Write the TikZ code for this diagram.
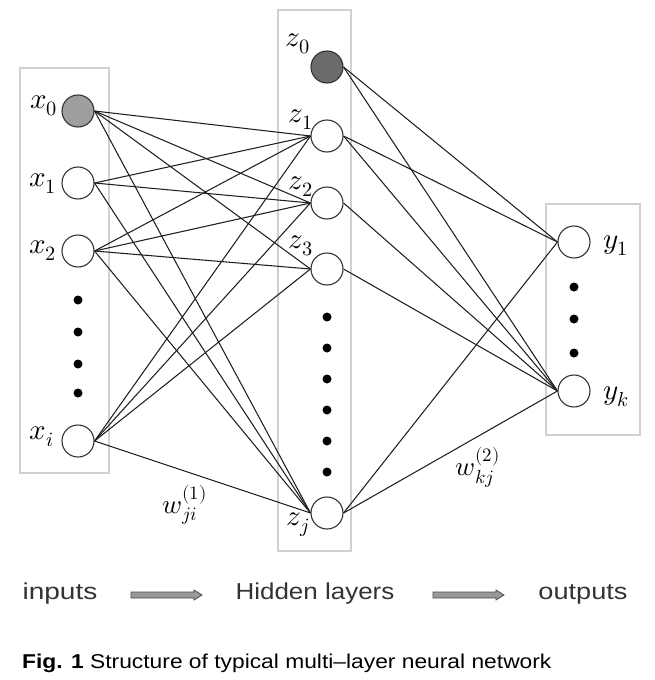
\documentclass[tikz,border=0pt]{standalone}
\usepackage{fontspec}
\usepackage{unicode-math}
\setmathfont{Latin Modern Math}
\setsansfont{Liberation Sans}
\usepackage{graphicx}
\begin{document}
\begin{tikzpicture}[x=1pt,y=-1pt,
  neuron/.style={circle,draw=black!80,line width=1.1pt,minimum size=32pt,inner sep=0pt,fill=white},
  layerbox/.style={draw=black!18,line width=1.5pt},
  conn/.style={draw=black!88,line width=1.05pt},
  dotn/.style={circle,fill=black,inner sep=0pt,minimum size=9pt},
  lbl/.style={font=\fontsize{29}{29}\selectfont,inner sep=0pt},
  wlbl/.style={font=\fontsize{27}{27}\selectfont,inner sep=0pt},
  bottxt/.style={font=\sffamily\fontsize{23}{23}\selectfont,text=black!80,inner sep=0pt},
  captxt/.style={font=\sffamily\fontsize{20}{20}\selectfont,inner sep=0pt,anchor=west},
  flowarrow/.style={draw=black!70,fill=black!40,line width=0.8pt}
]
\useasboundingbox (0,0) rectangle (654,680);
\fill[white] (0,0) rectangle (654,680);
% layer boxes
\draw[layerbox] (20,68) rectangle (109,473);
\draw[layerbox] (278,10) rectangle (351,551);
\draw[layerbox] (546,204) rectangle (640,435);
% input layer
\node[neuron,fill=black!38] (x0) at (78,111) {};
\node[neuron] (x1) at (78,183) {};
\node[neuron] (x2) at (78,251) {};
\node[neuron] (xi) at (78,441) {};
\foreach \yy/\nm in {300/a,332/b,364/c,393/d} \node[dotn] (xd\nm) at (78,\yy) {};
% hidden layer
\node[neuron,fill=black!58] (z0) at (327,67) {};
\node[neuron] (z1) at (327,136) {};
\node[neuron] (z2) at (327,203) {};
\node[neuron] (z3) at (327,269) {};
\node[neuron] (zj) at (327,513) {};
\foreach \yy/\nm in {317/a,348/b,379/c,410/d,441/e,472/f} \node[dotn] (zd\nm) at (327,\yy) {};
% output layer
\node[neuron] (y1) at (574,242) {};
\node[neuron] (yk) at (574,391) {};
\foreach \yy/\nm in {287/a,319/b,353/c} \node[dotn] (yd\nm) at (574,\yy) {};
% labels
\node[lbl] (lx0) at (44,106) {$x_0$};
\node[lbl] (lx1) at (43,184) {$x_1$};
\node[lbl] (lx2) at (43,251) {$x_2$};
\node[lbl] (lxi) at (42,437) {$x_i$};
\node[lbl] (lz0) at (298,44) {$z_0$};
\node[lbl] (lz1) at (301,120) {$z_1$};
\node[lbl] (lz2) at (301,187) {$z_2$};
\node[lbl] (lz3) at (301,246) {$z_3$};
\node[lbl] (lzj) at (298,525) {$z_j$};
\node[lbl] (ly1) at (616,246) {$y_1$};
\node[lbl] (lyk) at (616,397) {$y_k$};
\node[wlbl] (w1) at (185,505) {$w_{ji}^{(1)}$};
\node[wlbl] (w2) at (478,467) {$w_{kj}^{(2)}$};
% input -> hidden connections
\foreach \s/\t in {x0/z1,x0/z2,x0/z3,x0/zj,
                   x1/z1,x1/z2,x1/zj,
                   x2/z1,x2/z2,x2/z3,x2/zj,
                   xi/z1,xi/z2,xi/z3,xi/zj}
  \draw[conn] (\s.east) -- (\t.west);
% hidden -> output connections
\foreach \s/\t in {z0/y1,z0/yk,z1/y1,z1/yk,z2/yk,z3/yk,zj/y1,zj/yk}
  \draw[conn] (\s.east) -- (\t.west);
% bottom flow
\node[bottxt] (tin) at (60,594) {\scalebox{1.22}[1]{inputs}};
\node[bottxt] (thid) at (315,594) {\scalebox{1.13}[1]{Hidden layers}};
\node[bottxt] (tout) at (583,594) {\scalebox{1.18}[1]{outputs}};
\coordinate (a1s) at (131,595);
\coordinate (a2s) at (433,595);
\draw[flowarrow] (a1s) ++(0,-3) -- ++(63,0) -- ++(0,-2) -- ++(8,5) -- ++(-8,5) -- ++(0,-2) -- ++(-63,0) -- cycle;
\draw[flowarrow] (a2s) ++(0,-3) -- ++(63,0) -- ++(0,-2) -- ++(8,5) -- ++(-8,5) -- ++(0,-2) -- ++(-63,0) -- cycle;
% caption
\node[captxt] (cap) at (22,663) {\scalebox{1.14}[1]{\textbf{Fig. 1} Structure of typical multi--layer neural network}};
\end{tikzpicture}
\end{document}
